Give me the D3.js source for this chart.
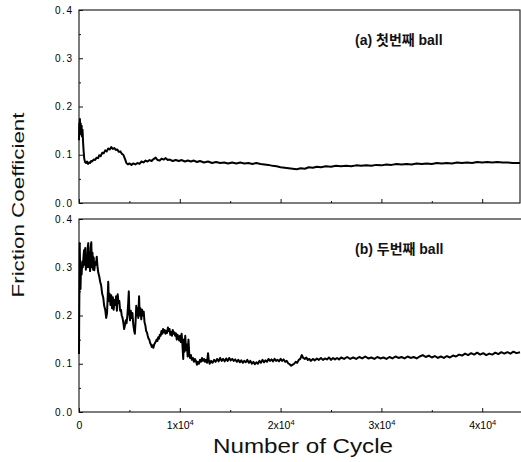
<!DOCTYPE html>
<html>
<head>
<meta charset="utf-8">
<script src="https://cdn.jsdelivr.net/npm/d3@7"></script>
<style>
body { margin:0; background:#fff; }
svg { display:block; }
</style>
</head>
<body>
<div id="chart"></div>
<script>
// [cycle, friction coefficient]
var ballA = [[0,0.130],[30,0.165],[60,0.150],[90,0.174],[130,0.148],[170,0.165],[210,0.142],[260,0.160],[300,0.138],[350,0.152],[400,0.128],[450,0.110],[520,0.092],[600,0.085],[700,0.083],[800,0.086],[900,0.081],[1000,0.084],[1100,0.083],[1200,0.087],[1300,0.086],[1450,0.090],[1600,0.089],[1750,0.094],[1900,0.093],[2000,0.099],[2150,0.097],[2300,0.104],[2450,0.103],[2600,0.109],[2750,0.107],[2900,0.113],[3050,0.111],[3200,0.116],[3350,0.112],[3500,0.114],[3650,0.110],[3800,0.111],[3950,0.106],[4100,0.107],[4250,0.102],[4400,0.100],[4550,0.092],[4700,0.083],[4850,0.080],[5000,0.082],[5200,0.079],[5400,0.082],[5600,0.080],[5800,0.083],[6000,0.081],[6200,0.086],[6400,0.084],[6600,0.088],[6800,0.086],[7000,0.089],[7200,0.087],[7400,0.091],[7600,0.094],[7800,0.089],[8000,0.088],[8200,0.092],[8400,0.090],[8600,0.093],[8800,0.089],[9000,0.090],[9300,0.087],[9600,0.089],[9900,0.087],[10200,0.089],[10500,0.086],[10800,0.088],[11100,0.086],[11400,0.088],[11700,0.085],[12000,0.087],[12400,0.084],[12800,0.086],[13200,0.083],[13600,0.085],[14000,0.083],[14400,0.084],[14800,0.082],[15200,0.084],[15600,0.082],[16000,0.084],[16400,0.082],[16800,0.083],[17200,0.081],[17600,0.083],[18000,0.081],[18400,0.080],[18800,0.079],[19200,0.077],[19600,0.076],[20000,0.074],[20400,0.073],[20800,0.072],[21200,0.071],[21600,0.070],[22000,0.072],[22400,0.071],[22800,0.074],[23200,0.073],[23600,0.075],[24000,0.074],[24500,0.076],[25000,0.075],[25500,0.077],[26000,0.076],[26500,0.077],[27000,0.076],[27500,0.078],[28000,0.077],[28500,0.078],[29000,0.077],[29500,0.079],[30000,0.078],[30500,0.080],[31000,0.079],[31500,0.081],[32000,0.080],[32500,0.081],[33000,0.080],[33500,0.082],[34000,0.081],[34500,0.082],[35000,0.081],[35500,0.083],[36000,0.082],[36500,0.083],[37000,0.082],[37500,0.084],[38000,0.083],[38500,0.084],[39000,0.083],[39500,0.085],[40000,0.084],[40500,0.085],[41000,0.084],[41500,0.085],[42000,0.084],[42500,0.084],[43000,0.083],[43750,0.083]];

var ballB = [[0,0.120],[20,0.200],[40,0.255],[70,0.350],[110,0.300],[150,0.255],[200,0.300],[260,0.285],[320,0.312],[380,0.300],[440,0.320],[500,0.335],[560,0.305],[620,0.340],[680,0.295],[740,0.315],[800,0.300],[860,0.340],[920,0.350],[980,0.300],[1040,0.330],[1100,0.292],[1160,0.340],[1220,0.352],[1280,0.300],[1340,0.330],[1400,0.295],[1460,0.320],[1520,0.294],[1600,0.310],[1680,0.305],[1760,0.322],[1840,0.300],[1920,0.288],[2000,0.282],[2100,0.270],[2200,0.262],[2300,0.245],[2400,0.238],[2500,0.220],[2600,0.212],[2700,0.195],[2780,0.205],[2850,0.240],[2900,0.270],[2960,0.230],[3040,0.245],[3120,0.222],[3200,0.242],[3280,0.215],[3360,0.238],[3440,0.212],[3520,0.232],[3600,0.222],[3680,0.240],[3760,0.210],[3840,0.244],[3920,0.226],[4000,0.230],[4080,0.210],[4160,0.212],[4240,0.200],[4320,0.195],[4400,0.185],[4480,0.172],[4560,0.180],[4640,0.190],[4720,0.184],[4800,0.200],[4880,0.225],[4940,0.250],[5000,0.205],[5060,0.190],[5140,0.210],[5220,0.195],[5300,0.205],[5380,0.182],[5460,0.170],[5540,0.162],[5620,0.190],[5680,0.220],[5740,0.200],[5820,0.215],[5880,0.195],[5960,0.240],[6020,0.200],[6100,0.215],[6180,0.192],[6260,0.212],[6340,0.200],[6420,0.208],[6500,0.186],[6580,0.180],[6660,0.168],[6740,0.165],[6820,0.158],[6900,0.152],[6980,0.150],[7060,0.143],[7140,0.140],[7220,0.135],[7300,0.138],[7380,0.133],[7460,0.140],[7540,0.143],[7620,0.146],[7700,0.150],[7780,0.147],[7860,0.155],[7940,0.152],[8020,0.160],[8100,0.158],[8180,0.168],[8260,0.162],[8340,0.172],[8420,0.165],[8500,0.170],[8580,0.162],[8660,0.168],[8740,0.164],[8820,0.175],[8900,0.168],[8980,0.172],[9060,0.160],[9140,0.166],[9220,0.158],[9300,0.170],[9380,0.162],[9460,0.165],[9540,0.158],[9620,0.163],[9700,0.150],[9780,0.160],[9860,0.155],[9940,0.148],[10020,0.158],[10100,0.145],[10180,0.162],[10260,0.140],[10340,0.110],[10400,0.150],[10460,0.125],[10540,0.158],[10620,0.128],[10700,0.140],[10780,0.115],[10860,0.150],[10940,0.120],[11020,0.112],[11100,0.118],[11200,0.108],[11300,0.112],[11400,0.104],[11500,0.110],[11600,0.106],[11700,0.098],[11800,0.104],[11900,0.100],[12000,0.108],[12100,0.104],[12200,0.112],[12300,0.106],[12400,0.110],[12500,0.104],[12600,0.108],[12700,0.102],[12800,0.122],[12880,0.106],[12960,0.100],[13100,0.106],[13250,0.102],[13400,0.108],[13550,0.104],[13700,0.110],[13850,0.105],[14000,0.112],[14150,0.106],[14300,0.110],[14450,0.105],[14600,0.111],[14750,0.106],[14900,0.112],[15050,0.107],[15200,0.110],[15350,0.106],[15500,0.109],[15650,0.104],[15800,0.108],[15950,0.103],[16100,0.107],[16250,0.102],[16400,0.106],[16550,0.103],[16700,0.108],[16850,0.102],[17000,0.106],[17150,0.100],[17300,0.104],[17450,0.099],[17600,0.103],[17750,0.100],[17900,0.106],[18050,0.102],[18200,0.108],[18350,0.103],[18500,0.107],[18650,0.104],[18800,0.110],[18950,0.106],[19100,0.109],[19250,0.105],[19400,0.110],[19550,0.106],[19700,0.108],[19850,0.105],[20000,0.110],[20150,0.106],[20300,0.109],[20450,0.104],[20600,0.106],[20750,0.101],[20900,0.099],[21050,0.096],[21200,0.098],[21350,0.100],[21500,0.104],[21650,0.102],[21800,0.108],[21950,0.110],[22100,0.118],[22250,0.112],[22400,0.110],[22550,0.113],[22700,0.108],[22850,0.110],[23000,0.106],[23200,0.110],[23400,0.107],[23600,0.111],[23800,0.108],[24000,0.112],[24200,0.108],[24400,0.111],[24600,0.109],[24800,0.113],[25000,0.108],[25200,0.112],[25400,0.109],[25600,0.112],[25800,0.109],[26000,0.113],[26300,0.110],[26600,0.114],[26900,0.110],[27200,0.113],[27500,0.110],[27800,0.114],[28100,0.111],[28400,0.115],[28700,0.111],[29000,0.113],[29300,0.110],[29600,0.114],[29900,0.111],[30200,0.113],[30500,0.110],[30800,0.114],[31100,0.111],[31400,0.115],[31700,0.112],[32000,0.114],[32300,0.111],[32600,0.115],[32900,0.112],[33200,0.114],[33500,0.111],[33800,0.115],[34100,0.118],[34400,0.114],[34700,0.117],[35000,0.113],[35300,0.116],[35600,0.112],[35900,0.115],[36200,0.112],[36500,0.116],[36800,0.113],[37100,0.117],[37400,0.115],[37700,0.119],[38000,0.117],[38300,0.121],[38600,0.118],[38900,0.122],[39200,0.119],[39500,0.123],[39800,0.119],[40100,0.122],[40400,0.118],[40700,0.121],[41000,0.119],[41300,0.123],[41600,0.120],[41900,0.124],[42200,0.121],[42500,0.124],[42800,0.121],[43100,0.125],[43400,0.122],[43750,0.124]];

var yTicks = [0, 0.1, 0.2, 0.3, 0.4];
var yTickLabels = ["0.0", "0.1", "0.2", "0.3", "0.4"];
var xTicks = [0, 10000, 20000, 30000, 40000];
var xTickLabels = ["0", "1x10", "2x10", "3x10", "4x10"];
var xTickExp = ["", "4", "4", "4", "4"];
var panelLabels = ["(a) 첫번째 ball", "(b) 두번째 ball"];
var xDomain = [0, 43750];
var yDomain = [0, 0.4];

var width = 521, height = 462;
var left = 79, right = 520;
var panels = [
  {data: ballA, top: 10, bottom: 203, label: panelLabels[0], frameRight: 520, showX: false},
  {data: ballB, top: 219, bottom: 412, label: panelLabels[1], frameRight: 524, showX: true}
];

var font = "'Liberation Sans', Arial, sans-serif";

var svg = d3.select('#chart').append('svg')
  .attr('width', width)
  .attr('height', height)
  .style('font-family', font);

var xScale = d3.scaleLinear()
  .domain(xDomain)
  .range([left, right]);

panels.forEach(function(p, i) {
  var yScale = d3.scaleLinear()
    .domain(yDomain)
    .range([p.bottom, p.top]);

  var g = svg.append('g');

  // frame
  g.append('rect')
    .attr('x', left)
    .attr('y', p.top)
    .attr('width', p.frameRight - left)
    .attr('height', p.bottom - p.top)
    .attr('fill', 'none')
    .attr('stroke', '#111')
    .attr('stroke-width', 1.1);

  // inward ticks on left axis
  var yAxis = d3.axisLeft(yScale)
    .tickValues(yTicks)
    .tickSizeInner(-4)
    .tickSizeOuter(0)
    .tickPadding(7)
    .tickFormat((d, j) => yTickLabels[j]);

  var ya = g.append('g')
    .attr('transform', `translate(${left},0)`)
    .call(yAxis);
  ya.select('.domain').remove();
  ya.selectAll('line').attr('stroke', '#111');
  ya.selectAll('text')
    .style('font-size', '10px')
    .style('font-family', font)
    .attr('fill', '#000')
    .attr('textLength', 17)
    .attr('lengthAdjust', 'spacing');

  var yMinor = d3.axisLeft(yScale)
    .tickValues([0.05, 0.15, 0.25, 0.35])
    .tickSizeInner(-2)
    .tickSizeOuter(0)
    .tickFormat('');
  var ym = g.append('g')
    .attr('transform', `translate(${left},0)`)
    .call(yMinor);
  ym.select('.domain').remove();
  ym.selectAll('line').attr('stroke', '#111');

  // inward ticks on bottom axis
  var xAxis = d3.axisBottom(xScale)
    .tickValues(xTicks)
    .tickSizeInner(-4)
    .tickSizeOuter(0)
    .tickPadding(10)
    .tickFormat('');
  var xa = g.append('g')
    .attr('transform', `translate(0,${p.bottom})`)
    .call(xAxis);
  xa.select('.domain').remove();
  xa.selectAll('line').attr('stroke', '#111');

  var xMinor = d3.axisBottom(xScale)
    .tickValues([5000, 15000, 25000, 35000])
    .tickSizeInner(-2)
    .tickSizeOuter(0)
    .tickFormat('');
  var xm = g.append('g')
    .attr('transform', `translate(0,${p.bottom})`)
    .call(xMinor);
  xm.select('.domain').remove();
  xm.selectAll('line').attr('stroke', '#111');

  if (p.showX) {
    xa.selectAll('.tick').each(function(d, j) {
      var t = d3.select(this).select('text');
      t.text(null)
        .attr('y', 17)
        .attr('dy', null)
        .attr('fill', '#000')
        .style('font-size', '10.5px')
        .style('font-family', font);
      t.append('tspan').text(xTickLabels[j]);
      if (xTickExp[j]) {
        t.append('tspan')
          .attr('dy', -4)
          .style('font-size', '7.5px')
          .text(xTickExp[j]);
      }
    });
  }

  var line = d3.line()
    .x(d => xScale(d[0]))
    .y(d => yScale(d[1]));

  g.append('path')
    .datum(p.data)
    .attr('d', line)
    .attr('fill', 'none')
    .attr('stroke', '#000')
    .attr('stroke-width', 2)
    .attr('stroke-linejoin', 'round');

  g.append('text')
    .attr('x', 355)
    .attr('y', p.top + 35)
    .attr('font-size', 14)
    .attr('font-weight', 'bold')
    .attr('fill', '#111')
    .style('font-family', "'Liberation Sans', 'Noto Sans CJK KR', sans-serif")
    .text(p.label);
});

svg.append('text')
  .attr('transform', 'translate(24,205) rotate(-90)')
  .attr('text-anchor', 'middle')
  .attr('font-size', 16)
  .attr('fill', '#111')
  .attr('textLength', 185)
  .attr('lengthAdjust', 'spacingAndGlyphs')
  .text('Friction Coefficient');

svg.append('text')
  .attr('x', 303)
  .attr('y', 453)
  .attr('text-anchor', 'middle')
  .attr('font-size', 20)
  .attr('fill', '#111')
  .attr('textLength', 180)
  .attr('lengthAdjust', 'spacingAndGlyphs')
  .text('Number of Cycle');
</script>
</body>
</html>
